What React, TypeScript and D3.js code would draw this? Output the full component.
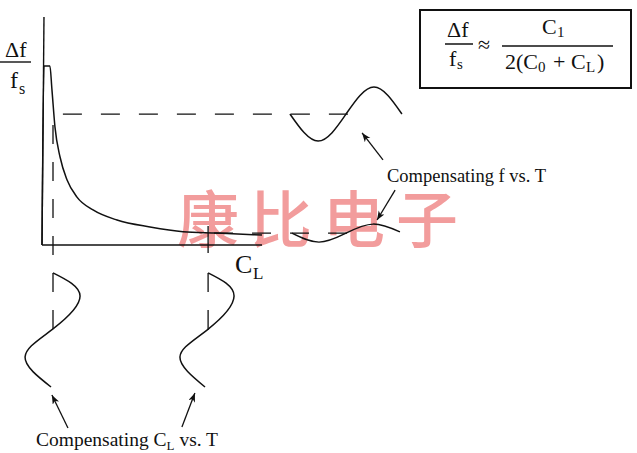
import React from "react";
import * as d3 from "d3";

// ---- data (in chart units: x = C_L, y = Δf/fs) ----
const decayCurve: [number, number][] = [
  [0, 0], [0.9, 79.6], [3.6, 79.6], [4.5, 69.3], [5.9, 52.4], [8.2, 39.1],
  [11.4, 28.9], [15.9, 21.3], [23.2, 15.6], [34.1, 11.1], [49.1, 8.0], [64.1, 5.9],
  [79.5, 5.3], [100, 4.4],
];
const upperWave: [number, number][] = [
  [112.7, 58.2], [125.5, 46.2], [138.2, 58.2], [150.9, 70.2], [163.6, 58.2],
];
const lowerWave: [number, number][] = [
  [113.6, 5.3], [125.9, 1.3], [138.2, 5.3], [150.5, 9.3], [162.7, 5.8],
];
const leftSine: [number, number][] = [
  [5.0, -12.4], [17.3, -22.7], [5.0, -37.3], [-7.7, -49.8], [4.1, -63.1],
];
const rightSine: [number, number][] = [
  [75.5, -12.4], [87.3, -22.7], [75.0, -37.8], [62.7, -49.8], [74.1, -63.1],
];
const upperLevel = { y: 58.2, x0: 9.5, x1: 139.1 };
const lowerLevel = { y: 5.3, x0: 78.2, x1: 139.1 };
const leftDrop = { x: 5.0, y0: 53.3, y1: -37.8 };
const rightDrop = { x: 75.5, y0: 8.4, y1: -37.8 };
const axisX: [number, number][] = [[0, 0], [100, 0]];
const axisY: [number, number][] = [[0, 0], [0.9, 101.3]];
const arrows: [[number, number], [number, number]][] = [
  [[155, 37.8], [145.5, 49.8]],
  [[160.5, 24.4], [152.3, 11.1]],
  [[11.8, -81.3], [4.5, -66.7]],
  [[63.6, -80.9], [69.5, -65.8]],
];
const watermark = ["康", "比", "电", "子"];

const W = 637;
const H = 453;

export default function App() {
  const x = d3.scaleLinear().domain([0, 100]).range([42, 262]);
  const y = d3.scaleLinear().domain([0, 100]).range([245, 20]);
  const line = d3.line<[number, number]>().x((d) => x(d[0])).y((d) => y(d[1]));
  const mono = d3.line<[number, number]>().x((d) => x(d[0])).y((d) => y(d[1])).curve(d3.curveMonotoneX);
  const smooth = d3.line<[number, number]>().x((d) => x(d[0])).y((d) => y(d[1])).curve(d3.curveNatural);
  const serif = "'Liberation Serif', 'Times New Roman', serif";
  const stroke = "#111";

  return (
    <svg width={W} height={H} style={{ position: "absolute", left: 0, top: 0, background: "#fff" }}>
      <defs>
        <marker id="ah" markerUnits="userSpaceOnUse" markerWidth={10} markerHeight={8} refX={9} refY={3.5} orient="auto">
          <path d="M0,0 L9,3.5 L0,7 L2.5,3.5 z" fill={stroke} />
        </marker>
      </defs>
      {/* watermark */}
      {watermark.map((c, i) => (
        <text key={i} x={208 + i * 73} y={243} textAnchor="middle" fontSize={62}
          fontFamily="'Noto Sans CJK SC', sans-serif" fontWeight={500} fill="#f29c9c">{c}</text>
      ))}
      {/* axes */}
      <path d={line(axisX)!} stroke={stroke} strokeWidth={1.6} fill="none" />
      <path d={line(axisY)!} stroke={stroke} strokeWidth={1.4} fill="none" />
      {/* dashed levels */}
      <path d={line([[upperLevel.x0, upperLevel.y], [upperLevel.x1, upperLevel.y]])!} stroke={stroke} strokeWidth={1.3} strokeDasharray="19 19" fill="none" />
      <path d={line([[lowerLevel.x0, lowerLevel.y], [lowerLevel.x1, lowerLevel.y]])!} stroke={stroke} strokeWidth={1.3} strokeDasharray="19 19" fill="none" />
      <path d={line([[leftDrop.x, leftDrop.y0], [leftDrop.x, leftDrop.y1]])!} stroke={stroke} strokeWidth={1.3} strokeDasharray="19 18" fill="none" />
      <path d={line([[rightDrop.x, rightDrop.y0], [rightDrop.x, rightDrop.y1]])!} stroke={stroke} strokeWidth={1.3} strokeDasharray="27 20 19 18 20" fill="none" />
      {/* curves */}
      <path d={mono(decayCurve)!} stroke={stroke} strokeWidth={1.5} fill="none" />
      <path d={smooth(upperWave)!} stroke={stroke} strokeWidth={1.5} fill="none" />
      <path d={smooth(lowerWave)!} stroke={stroke} strokeWidth={1.4} fill="none" />
      <path d={smooth(leftSine)!} stroke={stroke} strokeWidth={1.5} fill="none" />
      <path d={smooth(rightSine)!} stroke={stroke} strokeWidth={1.5} fill="none" />
      {/* arrows */}
      {arrows.map((a, i) => (
        <path key={i} d={line(a)!} stroke={stroke} strokeWidth={1.3} fill="none" markerEnd="url(#ah)" />
      ))}
      <g fontFamily={serif} fill={stroke}>
        {/* y-axis label */}
        <text x={5} y={57} fontSize={22}>Δf</text>
        <line x1={0} x2={31} y1={62} y2={62} stroke={stroke} strokeWidth={1.4} />
        <text x={10} y={88} fontSize={24}>f</text>
        <text x={19} y={94} fontSize={16}>s</text>
        {/* x-axis label */}
        <text x={235} y={273} fontSize={26}>C</text>
        <text x={253} y={279} fontSize={17}>L</text>
        {/* annotations */}
        <text x={387} y={182} fontSize={18.5}>Compensating f vs. T</text>
        <text x={36} y={446} fontSize={19.5}>
          Compensating C<tspan fontSize={13} dy={4}>L</tspan><tspan dy={-4}> vs. T</tspan>
        </text>
        {/* formula box */}
        <rect x={420} y={10} width={211} height={78} fill="none" stroke={stroke} strokeWidth={2} />
        <text x={447} y={37} fontSize={22}>Δf</text>
        <line x1={445} x2={473} y1={44} y2={44} stroke={stroke} strokeWidth={1.5} />
        <text x={449} y={66} fontSize={22}>f</text>
        <text x={457} y={69} fontSize={15}>s</text>
        <text x={478} y={52} fontSize={22}>≈</text>
        <text x={542} y={34} fontSize={22}>C</text>
        <text x={557} y={37} fontSize={15}>1</text>
        <line x1={502} x2={613} y1={46} y2={46} stroke={stroke} strokeWidth={1.5} />
        <text x={505} y={69} fontSize={22}>2(C</text>
        <text x={538} y={72} fontSize={15}>0</text>
        <text x={553} y={69} fontSize={22}>+</text>
        <text x={571} y={69} fontSize={22}>C</text>
        <text x={586} y={72} fontSize={15}>L</text>
        <text x={597} y={69} fontSize={22}>)</text>
      </g>
    </svg>
  );
}
